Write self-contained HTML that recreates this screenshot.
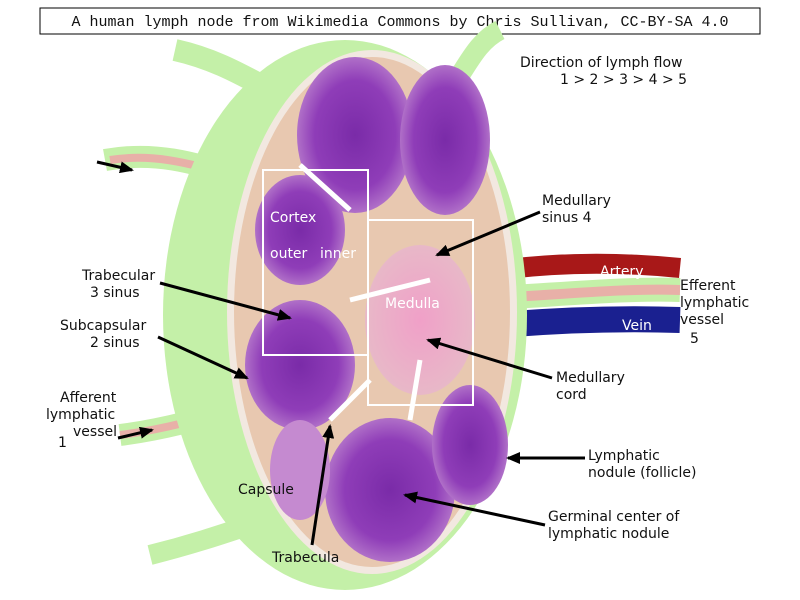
<!DOCTYPE html>
<html><head><meta charset="utf-8"><style>
html,body{margin:0;padding:0;background:#fff;width:800px;height:600px;overflow:hidden}
svg{display:block}
text{font-family:"DejaVu Sans","Liberation Sans",sans-serif;font-size:14px;fill:#111}
</style></head><body>
<svg width="800" height="600" viewBox="0 0 800 600">
<defs>
<radialGradient id="pg" cx="50%" cy="50%" r="50%"><stop offset="0" stop-color="#7a2ba8"/><stop offset="0.7" stop-color="#8f3db8"/><stop offset="1" stop-color="#b070c8"/></radialGradient>
<radialGradient id="mg" cx="50%" cy="50%" r="50%"><stop offset="0" stop-color="#f0a0c8"/><stop offset="1" stop-color="#e8b8c8"/></radialGradient>
<marker id="ah" markerUnits="userSpaceOnUse" markerWidth="14" markerHeight="12" refX="12" refY="6" orient="auto"><path d="M0,0 L14,6 L0,12 z" fill="#000"/></marker>
</defs>
<rect x="40" y="8" width="720" height="26" fill="#fff" stroke="#000" stroke-width="1"/>
<text x="400" y="26" text-anchor="middle" style="font-family:'Liberation Mono',monospace;font-size:15px">A human lymph node from Wikimedia Commons by Chris Sullivan, CC-BY-SA 4.0</text>
<path d="M175,50 C220,60 250,80 280,95" stroke="#c4f0a8" stroke-width="22" fill="none"/>
<path d="M105,160 C160,150 200,165 250,180" stroke="#c4f0a8" stroke-width="22" fill="none"/>
<path d="M110,160 C160,152 200,167 250,180" stroke="#e8b0a8" stroke-width="8" fill="none"/>
<path d="M120,435 C160,430 200,420 245,405" stroke="#c4f0a8" stroke-width="22" fill="none"/>
<path d="M120,435 C160,430 200,420 245,405" stroke="#e8b0a8" stroke-width="8" fill="none"/>
<path d="M150,555 C190,545 220,535 250,525" stroke="#c4f0a8" stroke-width="20" fill="none"/>
<path d="M500,30 C480,40 470,60 460,75" stroke="#c4f0a8" stroke-width="20" fill="none"/>
<path d="M500,270 C560,262 620,262 680,268" stroke="#a81818" stroke-width="20" fill="none"/>
<path d="M500,325 C560,320 620,318 680,320" stroke="#1a2090" stroke-width="26" fill="none"/>
<path d="M460,300 C560,295 620,288 680,290" stroke="#c4f0a8" stroke-width="24" fill="none"/>
<path d="M460,300 C560,295 620,288 680,290" stroke="#e8b0a8" stroke-width="10" fill="none"/>
<ellipse cx="345" cy="315" rx="182" ry="275" fill="#c4f0a8"/>
<ellipse cx="372" cy="312" rx="145" ry="262" fill="#f2e8e0"/>
<ellipse cx="372" cy="312" rx="138" ry="255" fill="#e8c8b0"/>
<ellipse cx="355" cy="135" rx="58" ry="78" fill="url(#pg)"/>
<ellipse cx="445" cy="140" rx="45" ry="75" fill="url(#pg)"/>
<ellipse cx="300" cy="230" rx="45" ry="55" fill="url(#pg)"/>
<ellipse cx="300" cy="365" rx="55" ry="65" fill="url(#pg)"/>
<ellipse cx="390" cy="490" rx="65" ry="72" fill="url(#pg)"/>
<ellipse cx="470" cy="445" rx="38" ry="60" fill="url(#pg)"/>
<ellipse cx="300" cy="470" rx="30" ry="50" fill="#c58ad0"/>
<ellipse cx="420" cy="320" rx="55" ry="75" fill="url(#mg)"/>
<path d="M350,210 L300,165 M350,300 L430,280 M410,420 L420,360 M330,420 L370,380" stroke="#fff" stroke-width="5" fill="none"/>
<rect x="263" y="170" width="105" height="185" fill="none" stroke="#fff" stroke-width="2"/>
<rect x="368" y="220" width="105" height="185" fill="none" stroke="#fff" stroke-width="2"/>
<text x="270" y="222" style="fill:#fff">Cortex</text>
<text x="270" y="258" style="fill:#fff">outer</text>
<text x="320" y="258" style="fill:#fff">inner</text>
<text x="385" y="308" style="fill:#fff">Medulla</text>
<text x="600" y="276" style="fill:#fff">Artery</text>
<text x="622" y="330" style="fill:#fff">Vein</text>
<text x="520" y="67">Direction of lymph flow</text>
<text x="560" y="84">1 &gt; 2 &gt; 3 &gt; 4 &gt; 5</text>
<text x="542" y="205">Medullary</text>
<text x="542" y="222">sinus 4</text>
<text x="82" y="280">Trabecular</text>
<text x="90" y="297">3 sinus</text>
<text x="60" y="330">Subcapsular</text>
<text x="90" y="347">2 sinus</text>
<text x="60" y="402">Afferent</text>
<text x="46" y="419">lymphatic</text>
<text x="73" y="436">vessel</text>
<text x="58" y="447">1</text>
<text x="680" y="290">Efferent</text>
<text x="680" y="307">lymphatic</text>
<text x="680" y="324">vessel</text>
<text x="690" y="343">5</text>
<text x="556" y="382">Medullary</text>
<text x="556" y="399">cord</text>
<text x="588" y="460">Lymphatic</text>
<text x="588" y="477">nodule (follicle)</text>
<text x="548" y="521">Germinal center of</text>
<text x="548" y="538">lymphatic nodule</text>
<text x="238" y="494">Capsule</text>
<text x="272" y="562">Trabecula</text>
<g stroke="#000" stroke-width="3" fill="none" marker-end="url(#ah)">
<line x1="97" y1="162" x2="132" y2="170"/>
<line x1="540" y1="212" x2="437" y2="255"/>
<line x1="160" y1="283" x2="290" y2="318"/>
<line x1="158" y1="337" x2="247" y2="378"/>
<line x1="118" y1="438" x2="152" y2="430"/>
<line x1="552" y1="378" x2="428" y2="340"/>
<line x1="585" y1="458" x2="508" y2="458"/>
<line x1="545" y1="525" x2="405" y2="495"/>
<line x1="312" y1="545" x2="330" y2="426"/>
</g>
</svg>
</body></html>
